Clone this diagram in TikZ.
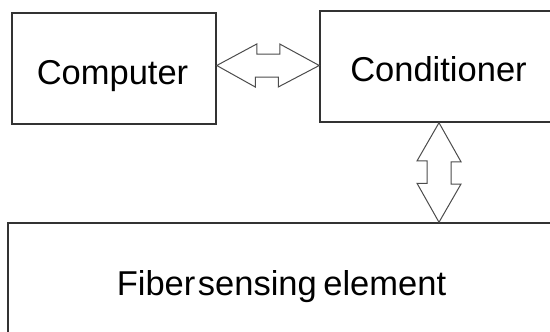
\documentclass[tikz,border=0pt]{standalone}
\usepackage{fontspec}
\setmainfont{Liberation Sans}
\begin{document}
\begin{tikzpicture}[x=1pt, y=-1pt,
  box/.style={draw=black!80, line width=1.5pt, inner sep=0pt, fill=none},
  lbl/.style={font=\fontsize{34.5}{40}\selectfont, inner sep=0pt, anchor=base},
  blockarrow/.style={draw=black!70, line width=1pt, line join=miter, fill=white}]
  \useasboundingbox (0,0) rectangle (550,332);
  \clip (0,0) rectangle (550,332);

  % blocks
  \node[box, minimum width=204pt, minimum height=111pt] (comp) at (114,68.5) {};
  \node[box, minimum width=240pt, minimum height=111pt] (cond) at (440,66.5) {};
  \node[box, minimum width=552pt, minimum height=127pt] (fib) at (284,286.5) {};

  % labels
  \node[lbl] (tcomp) at (112.5,84) {Computer};
  \node[lbl] (tcond) at (438.5,81.5) {Conditioner};
  \node[lbl] (tfib) at (281.5,295) {Fiber\hspace{-7pt} sensing\hspace{-3pt} element};

  % two-way link between computer and conditioner
  \coordinate (hl) at (comp.east |- 0,65.5);
  \coordinate (hr) at (cond.west |- 0,65.5);
  \draw[blockarrow] (hl) -- ++(40,-21.5) -- ++(0,10) -- ++(23,0) -- ++(0,-10)
    -- (hr) -- ++(-41,21.5) -- ++(0,-10) -- ++(-23,0) -- ++(0,10) -- cycle;

  % two-way link between conditioner and sensing element
  \coordinate (vt) at (439,0 |- cond.south);
  \coordinate (vb) at (439,0 |- fib.north);
  \draw[blockarrow] (vt) -- ++(22,39) -- ++(-10,0) -- ++(0,22.3) -- ++(10,0)
    -- (vb) -- ++(-22,-39) -- ++(10,0) -- ++(0,-22.3) -- ++(-10,0) -- cycle;
\end{tikzpicture}
\end{document}
